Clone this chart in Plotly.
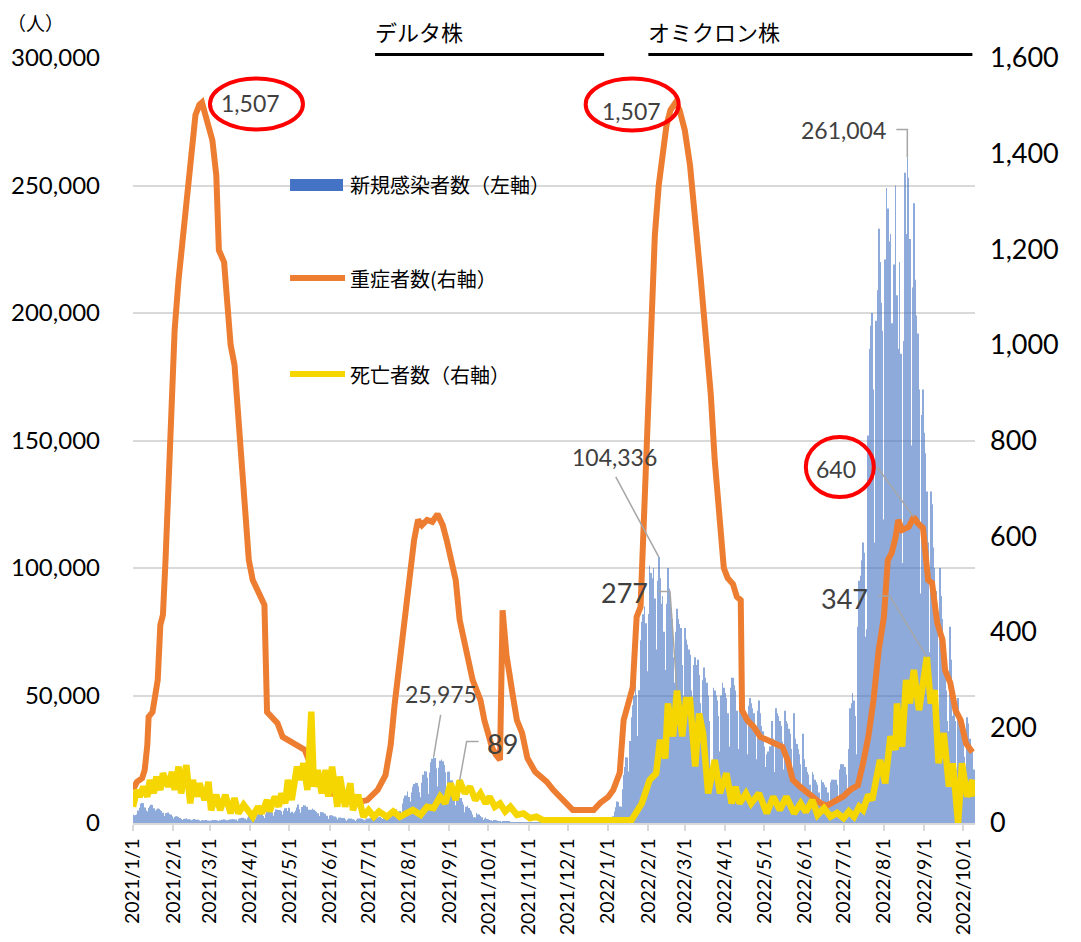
import plotly.graph_objects as go
import pandas as pd

# ---------------- data ----------------
# 新規感染者数 (daily, from 2021-01-01), left axis
cases_2021 = [
    3256,3059,3157,3325,4915,6004,7570,7882,7790,6094,4876,4537,5875,6605,7133,7014,5759,4925,5320,5654,5532,5045,4717,3990,2764,3853,3961,4132,3526,3343,2673,  # Jan
    1792,2324,2631,2576,2365,1989,1589,1217,1569,1713,1879,1519,1465,1360,1030,1308,1527,1373,1298,1238,1070,741,1083,1074,1059,1182,993,1000,  # Feb
    660,1000,1210,1150,1130,1110,1070,600,1120,1300,1280,1330,1320,1100,740,1300,1460,1510,1470,1470,1390,810,1520,1910,2000,2050,2080,1780,1240,2080,2840,  # Mar
    2600,2760,2740,2470,1570,2660,3450,3450,3490,3700,2780,1990,3450,4570,4300,4530,4800,4090,2890,4330,5290,5170,5120,5000,4600,3300,4830,5780,5900,4700,  # Apr
    5980,4060,4400,3800,4200,4950,6050,7240,5390,4010,6240,7040,6870,6260,6420,5220,3680,5220,5700,5240,4660,4400,3830,2760,4300,4240,4070,3700,3650,2870,1600,  # May
    2950,3030,2930,2660,2530,2140,1380,2020,2190,1960,1930,1930,1390,930,1420,1720,1680,1720,1480,1300,780,1290,1780,1730,1750,1600,1300,1030,1400,1760,  # Jun
    1790,1900,1970,1700,1000,1640,2190,2240,2270,2450,1980,1530,2380,3200,3420,3420,3840,3100,2330,3760,4900,5390,4220,4300,4710,3000,7630,9580,10690,10750,12340,  # Jul
    10160,8390,12000,14200,15260,15750,15730,14460,12100,10100,15810,18890,20360,20150,17780,11400,19820,23870,25150,25975,25460,21430,14300,21640,24400,24950,24240,22760,19880,12650,20060,  # Aug
    20100,16720,16750,15020,12260,6960,10180,12400,10400,9780,8300,7220,4170,6380,6770,5900,5090,4500,3380,2210,2140,3940,3360,3290,2720,2210,1130,1800,2140,1580,  # Sep
    1440,1220,1080,620,1130,1150,1090,890,760,650,380,610,720,620,510,500,430,230,370,390,330,320,270,270,150,260,300,250,260,220,200,  # Oct
    90,180,160,150,180,160,160,60,150,190,200,170,160,130,70,130,120,160,140,130,90,50,80,100,130,120,110,90,70,120,  # Nov
    130,120,140,120,130,70,140,160,150,160,120,120,80,150,190,150,190,230,180,130,190,250,260,280,260,200,200,380,390,500,520,  # Dec
]
cases_2022 = [
    450,550,780,1270,2640,4470,6210,8480,8230,6440,6370,13240,18860,21970,25740,25630,20190,32200,41490,46170,49900,54570,50190,34100,52100,71630,78930,81840,84930,78300,59500,  # Jan
    82000,101000,98000,96000,100000,88000,68000,95000,104336,96000,86000,89000,75000,60000,86000,100000,92000,86000,80000,65000,55000,75000,84000,80000,78000,76500,62000,50000,  # Feb
    76500,72000,70000,68000,66000,52000,38000,62000,65000,62000,64000,58000,47000,30000,56000,61000,57000,55000,50000,40000,22000,24000,53000,52000,50000,48000,42000,28000,50000,55000,53000,  # Mar
    51000,49000,43000,30000,53000,57000,57000,54000,52000,44000,29000,48000,48000,47000,46000,45000,40000,27000,46000,49000,47000,45000,43000,37000,25000,44000,48000,43000,38000,36000,  # Apr
    30000,22000,27000,28000,30000,30000,40000,33000,20000,45000,43000,42000,40000,38000,32000,21000,44000,40000,39000,37000,35000,29000,17000,43000,33000,31000,29000,27000,23000,14000,35000,  # May
    25000,22000,20000,19000,15000,8000,20000,19000,17000,16000,15000,12000,7000,17000,16000,15000,14000,14000,12000,7500,16000,17000,17000,17000,17000,15000,10000,21000,23000,23000,  # Jun
    23000,22000,19000,11000,29000,45000,47000,51000,48000,42000,27000,77000,95000,97000,103000,110000,106000,73000,76000,152000,186000,195000,200000,170000,110000,197000,209000,233000,220000,204000,193000,  # Jul
    119000,221000,249000,241000,228000,231000,196000,115000,219000,250000,207000,186000,220000,184000,102000,189000,255000,231000,261004,253000,229000,148000,210000,243000,213000,199000,192000,170000,90000,160000,170000,  # Aug
    153000,145000,130000,110000,67000,130000,125000,108000,100000,91000,76000,40000,100000,89000,80000,73000,66000,52000,40000,36000,77000,64000,42000,45000,40000,21000,49000,42000,39000,34000,  # Sep
    31000,26000,12000,41500,39000,33000,30000,28000,21000,  # Oct
]

# 重症者数 (right axis)
severe_dates = [
    "2021-01-01","2021-01-04","2021-01-08","2021-01-10","2021-01-12","2021-01-13","2021-01-16","2021-01-18","2021-01-20",
    "2021-01-22","2021-01-24","2021-01-26","2021-01-29","2021-02-02","2021-02-05","2021-02-08","2021-02-12","2021-02-15",
    "2021-02-18","2021-02-21","2021-02-23","2021-02-25","2021-02-28","2021-03-03","2021-03-06","2021-03-08","2021-03-12",
    "2021-03-17","2021-03-20","2021-03-24","2021-03-28","2021-03-31","2021-04-03","2021-04-07","2021-04-11","2021-04-12",
    "2021-04-14","2021-04-18","2021-04-22","2021-04-26","2021-04-30","2021-05-04","2021-05-09","2021-05-13","2021-05-16",
    "2021-05-19","2021-05-25","2021-06-01","2021-06-09","2021-06-17","2021-06-24","2021-06-30","2021-07-08","2021-07-14",
    "2021-07-18","2021-07-21","2021-07-25","2021-07-29","2021-08-02","2021-08-05","2021-08-08","2021-08-11","2021-08-15",
    "2021-08-19","2021-08-23","2021-08-27","2021-08-30","2021-09-02","2021-09-06","2021-09-09","2021-09-12","2021-09-16",
    "2021-09-19","2021-09-22","2021-09-25","2021-09-28","2021-10-01","2021-10-04","2021-10-07","2021-10-10","2021-10-12",
    "2021-10-15","2021-10-20","2021-10-23","2021-10-27","2021-10-31","2021-11-06","2021-11-15","2021-11-20","2021-11-25",
    "2021-12-01","2021-12-05","2021-12-13","2021-12-21","2021-12-26","2022-01-01","2022-01-05","2022-01-08","2022-01-10",
    "2022-01-13","2022-01-16","2022-01-20","2022-01-22","2022-01-23","2022-01-26","2022-01-27","2022-01-29","2022-01-30",
    "2022-02-02","2022-02-04","2022-02-06","2022-02-09","2022-02-12","2022-02-15","2022-02-18","2022-02-22","2022-02-25",
    "2022-03-01","2022-03-05","2022-03-09","2022-03-13","2022-03-17","2022-03-21","2022-03-24","2022-03-28","2022-03-30",
    "2022-03-31","2022-04-03","2022-04-07","2022-04-10","2022-04-13","2022-04-14","2022-04-18","2022-04-23","2022-04-28",
    "2022-05-03","2022-05-08","2022-05-15","2022-05-19","2022-05-23","2022-05-29","2022-06-05","2022-06-13","2022-06-18",
    "2022-06-25","2022-07-01","2022-07-06","2022-07-12","2022-07-16","2022-07-20","2022-07-24","2022-07-28","2022-08-01",
    "2022-08-04","2022-08-07","2022-08-10","2022-08-12","2022-08-15","2022-08-20","2022-08-24","2022-08-27","2022-08-31",
    "2022-09-04","2022-09-07","2022-09-11","2022-09-15","2022-09-17","2022-09-21","2022-09-25","2022-09-29","2022-10-03",
    "2022-10-08",
]
severe_values = [
    69,86,94,111,163,222,232,264,299,
    414,435,550,759,1031,1136,1219,1345,1428,
    1481,1502,1507,1487,1460,1428,1355,1198,1173,
    1000,958,822,676,550,508,487,466,456,
    232,220,209,180,174,167,161,153,132,
    100,80,65,54,48,44,48,69,100,
    163,247,341,429,519,592,634,623,634,
    630,646,623,592,561,508,425,383,330,
    299,278,257,215,184,157,142,132,445,
    351,264,215,188,136,107,86,69,54,
    36,27,27,27,42,54,69,90,105,
    215,243,284,383,431,452,523,634,780,
    968,1115,1230,1334,1408,1460,1491,1507,1491,
    1449,1376,1272,1146,1021,895,759,634,581,
    533,512,500,473,466,236,215,201,180,
    174,167,159,132,90,75,59,42,36,
    46,56,69,79,125,180,257,362,431,
    550,565,598,634,613,619,640,627,617,
    508,502,418,383,320,293,236,215,167,
    148,
]

# 死亡者数 (right axis)
death_dates = [
    "2021-01-01","2021-01-04","2021-01-06","2021-01-09","2021-01-12","2021-01-14","2021-01-17","2021-01-19","2021-01-22",
    "2021-01-24","2021-01-28","2021-01-31","2021-02-02","2021-02-05","2021-02-07","2021-02-11","2021-02-14","2021-02-16",
    "2021-02-19","2021-02-21","2021-02-25","2021-02-28","2021-03-02","2021-03-06","2021-03-09","2021-03-13","2021-03-17",
    "2021-03-20","2021-03-23","2021-03-27","2021-03-31","2021-04-03","2021-04-07","2021-04-10","2021-04-14","2021-04-16",
    "2021-04-20","2021-04-23","2021-04-25","2021-04-28","2021-04-30","2021-05-03","2021-05-07","2021-05-09","2021-05-12",
    "2021-05-15","2021-05-18","2021-05-20","2021-05-23","2021-05-26","2021-05-29","2021-05-31","2021-06-03","2021-06-07",
    "2021-06-09","2021-06-13","2021-06-17","2021-06-19","2021-06-23","2021-06-27","2021-07-01","2021-07-05","2021-07-09",
    "2021-07-15","2021-07-20","2021-07-25","2021-07-30","2021-08-04","2021-08-10","2021-08-15","2021-08-20","2021-08-25",
    "2021-08-29","2021-09-02","2021-09-06","2021-09-09","2021-09-13","2021-09-17","2021-09-21","2021-09-25","2021-09-29",
    "2021-10-02","2021-10-06","2021-10-10","2021-10-14","2021-10-18","2021-10-23","2021-10-28","2021-11-02","2021-11-07",
    "2021-11-12","2021-11-20","2021-11-30","2021-12-11","2021-12-22","2022-01-01","2022-01-11","2022-01-19","2022-01-27",
    "2022-02-01","2022-02-02","2022-02-07","2022-02-10","2022-02-14","2022-02-16","2022-02-20","2022-02-23","2022-02-27",
    "2022-03-02","2022-03-05","2022-03-09","2022-03-12","2022-03-15","2022-03-19","2022-03-24","2022-03-28","2022-04-02",
    "2022-04-06","2022-04-09","2022-04-12","2022-04-17","2022-04-21","2022-04-27","2022-05-03","2022-05-08","2022-05-13",
    "2022-05-18","2022-05-24","2022-05-29","2022-06-02","2022-06-07","2022-06-11","2022-06-16","2022-06-21","2022-06-26",
    "2022-07-01","2022-07-05","2022-07-09","2022-07-13","2022-07-16","2022-07-20","2022-07-23","2022-07-27","2022-07-29",
    "2022-08-02","2022-08-06","2022-08-10","2022-08-11","2022-08-15","2022-08-18","2022-08-21","2022-08-24","2022-08-28",
    "2022-09-01","2022-09-03","2022-09-06","2022-09-09","2022-09-12","2022-09-16","2022-09-20","2022-09-23","2022-09-27",
    "2022-09-30","2022-10-04","2022-10-08","2022-10-09",
]
death_values = [
    34,69,55,76,55,90,62,97,69,
    104,76,107,69,118,62,121,41,90,
    55,83,48,86,27,59,27,59,20,
    52,20,38,24,13,34,20,48,24,
    55,34,62,41,90,48,118,90,125,
    69,233,76,111,62,111,55,118,34,
    97,34,83,27,59,13,27,13,24,
    13,24,13,20,27,17,34,31,55,
    41,83,48,89,62,76,48,62,41,
    55,34,41,24,34,17,20,10,13,
    6,6,3,3,3,4,3,6,41,
    76,90,104,174,135,250,181,277,181,
    257,257,118,229,188,62,132,62,104,
    41,76,41,62,41,62,20,55,27,
    55,20,41,23,48,17,31,13,21,
    10,24,13,34,27,59,48,111,132,
    83,181,153,250,160,299,250,320,236,
    320,347,250,278,125,188,76,125,0,
    125,55,90,55,
]

# month tick labels
month_labels = [
    "2021/1/1","2021/2/1","2021/3/1","2021/4/1","2021/5/1","2021/6/1","2021/7/1","2021/8/1","2021/9/1",
    "2021/10/1","2021/11/1","2021/12/1","2022/1/1","2022/2/1","2022/3/1","2022/4/1","2022/5/1","2022/6/1",
    "2022/7/1","2022/8/1","2022/9/1","2022/10/1",
]

# variant periods (start, end)
delta_period = ("2021-07-06", "2021-12-29")
omicron_period = ("2022-02-01", "2022-10-08")

# ---------------- figure ----------------
cases = cases_2021 + cases_2022
case_dates = pd.date_range("2021-01-01", periods=len(cases), freq="D")
tick_vals = pd.to_datetime(month_labels, format="%Y/%m/%d")

NUM_FONT = "Lato, 'Noto Sans CJK JP', sans-serif"
JP_FONT = "'Noto Sans CJK JP', sans-serif"
BLUE, ORANGE, YELLOW = "#4472C4", "#ED7D31", "#F5D600"
LABEL_GRAY = "#404040"
LEADER_GRAY = "#A6A6A6"

fig = go.Figure()
fig.add_trace(go.Bar(x=case_dates, y=cases, name="新規感染者数（左軸）",
                     marker=dict(color=BLUE, line=dict(width=0)), opacity=0.6, yaxis="y"))
fig.add_trace(go.Scatter(x=severe_dates, y=severe_values, name="重症者数(右軸）", mode="lines",
                         line=dict(color=ORANGE, width=6), yaxis="y2"))
fig.add_trace(go.Scatter(x=death_dates, y=death_values, name="死亡者数（右軸）", mode="lines",
                         line=dict(color=YELLOW, width=6.5), yaxis="y2"))


def peak(dates, vals, start, end):
    s = pd.Series(list(vals), index=pd.to_datetime(dates))
    w = s[start:end]
    return w.idxmax(), w.max()


# (series, window, axis, text shift (dx, dy), leader path, ellipse offsets, font size)
label_specs = [
    ((case_dates, cases), ("2022-07-01", "2022-09-30"), "y", (-64, 27), "M0,0 L0,28 L-11,28", None, 23),
    ((case_dates, cases), ("2022-01-01", "2022-03-31"), "y", (-44, 100), "M0,0 L-43,80", None, 23),
    ((case_dates, cases), ("2021-07-01", "2021-09-30"), "y", (7, 63), "M0,0 L7,42", None, 23),
    ((death_dates, death_values), ("2021-08-01", "2021-10-31"), "y2", (43, 37), "M0,0 L7,39 L19,39", None, 27),
    ((death_dates, death_values), ("2022-01-01", "2022-04-30"), "y2", (-52, 98), "M0,0 L-7,99 L-19,99", None, 27),
    ((death_dates, death_values), ("2022-07-01", "2022-10-31"), "y2", (-82, 59), "M0,0 L-37,61 L-49,61", None, 27),
    ((severe_dates, severe_values), ("2022-07-01", "2022-10-31"), "y2", (-78, 48), "M0,0 L-36,49 L-45,49",
     (-108, -40, 20, 80), 23),
    ((severe_dates, severe_values), ("2022-01-01", "2022-04-30"), "y2", (-44, -9), None, (-90, 3, -28, 24), 23),
    ((severe_dates, severe_values), ("2021-01-01", "2021-04-30"), "y2", (49, -1), None, (8, 101, -27, 24), 23),
]

annotations = []
shapes = []
for (ds, vs), (a, b), yax, (dx, dy), path, ell, fsize in label_specs:
    px, pv = peak(ds, vs, a, b)
    annotations.append(dict(x=px, y=pv, xref="x", yref=yax, text=f"{int(pv):,}", showarrow=False,
                            xshift=dx, yshift=dy, xanchor="center", yanchor="middle",
                            font=dict(family=NUM_FONT, size=fsize, color=LABEL_GRAY)))
    if path:
        shapes.append(dict(type="path", xref="x", yref=yax, xsizemode="pixel", ysizemode="pixel",
                           xanchor=px, yanchor=pv, path=path, line=dict(color=LEADER_GRAY, width=1.5)))
    if ell:
        shapes.append(dict(type="circle", xref="x", yref=yax, xsizemode="pixel", ysizemode="pixel",
                           xanchor=px, yanchor=pv, x0=ell[0], x1=ell[1], y0=ell[2], y1=ell[3],
                           line=dict(color="#FF0000", width=4), layer="above"))

# variant period labels with underline
for (s, e), txt in [(delta_period, "デルタ株"), (omicron_period, "オミクロン株")]:
    shapes.append(dict(type="line", xref="x", yref="paper", x0=s, x1=e, y0=1.0045, y1=1.0045,
                       line=dict(color="black", width=3)))
    annotations.append(dict(x=s, y=1.0045, xref="x", yref="paper", text=txt, showarrow=False,
                            xanchor="left", yanchor="bottom", yshift=6, xshift=-2,
                            font=dict(family=JP_FONT, size=22, color="black")))

# unit label
annotations.append(dict(x=-0.116, y=1.047, xref="paper", yref="paper", text="（人）", showarrow=False,
                        xanchor="center", yanchor="middle", font=dict(family=JP_FONT, size=19, color="black")))

# manual legend
legend_items = [
    ("rect", BLUE, "新規感染者数（左軸）", 0.8340),
    ("line", ORANGE, "重症者数(右軸）", 0.7124),
    ("line", YELLOW, "死亡者数（右軸）", 0.5869),
]
for kind, col, txt, yy in legend_items:
    if kind == "rect":
        shapes.append(dict(type="rect", xref="paper", yref="paper", x0=0.1865, x1=0.2494,
                           y0=yy - 0.0078, y1=yy + 0.0078, fillcolor=col, line=dict(width=0)))
    else:
        shapes.append(dict(type="line", xref="paper", yref="paper", x0=0.1865, x1=0.2518,
                           y0=yy, y1=yy, line=dict(color=col, width=6)))
    annotations.append(dict(x=0.2553, y=yy, xref="paper", yref="paper", text=txt, showarrow=False,
                            xanchor="left", yanchor="middle",
                            font=dict(family=JP_FONT, size=20, color="black")))

# page has an 8px body margin: figure is sized so the plot area lands where the reference has it
fig.update_layout(
    width=1065, height=934,
    margin=dict(l=125, r=98, t=50, b=119, autoexpand=False),
    paper_bgcolor="white", plot_bgcolor="white",
    showlegend=False, bargap=0.5,
    font=dict(family=NUM_FONT, color="black"),
    xaxis=dict(type="date", range=["2021-01-01", "2022-10-10"], tickvals=tick_vals, ticktext=month_labels,
               tickangle=-90, ticks="outside", ticklen=6, tickcolor="#D9D9D9", tickwidth=1.5,
               showline=True, linecolor="#D9D9D9", linewidth=1.5, showgrid=False, zeroline=False,
               automargin=False,
               tickfont=dict(family=NUM_FONT, size=19.5, color="black")),
    yaxis=dict(range=[0, 300000], tickvals=[0, 50000, 100000, 150000, 200000, 250000, 300000],
               tickformat=",", showgrid=True, gridcolor="#D9D9D9", gridwidth=1.5, zeroline=False,
               showline=False, ticks="", ticklabelstandoff=32, automargin=False,
               tickfont=dict(family=NUM_FONT, size=24, color="black")),
    yaxis2=dict(overlaying="y", side="right", range=[0, 1600], dtick=200, tickformat=",",
                showgrid=False, zeroline=False, showline=False, ticks="", ticklabelstandoff=14,
                automargin=False,
                tickfont=dict(family=NUM_FONT, size=27, color="black")),
    annotations=annotations,
    shapes=shapes,
)

fig.write_html("out.html")
